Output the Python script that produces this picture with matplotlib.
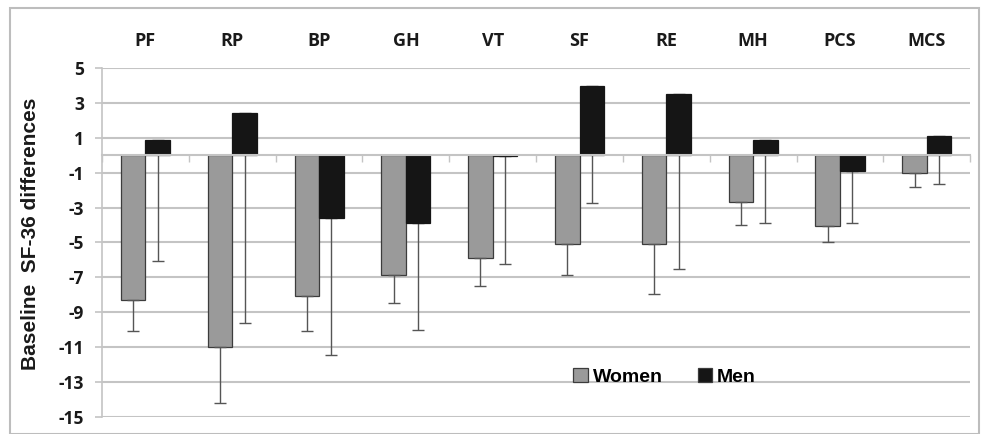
import matplotlib.pyplot as plt
import numpy as np
from matplotlib.patches import Rectangle

categories = ["PF", "RP", "BP", "GH", "VT", "SF", "RE", "MH", "PCS", "MCS"]
women = [-8.3, -11.0, -8.1, -6.9, -5.9, -5.1, -5.1, -2.7, -4.05, -1.0]
women_err = [1.8, 3.2, 2.0, 1.55, 1.6, 1.8, 2.85, 1.3, 0.9, 0.8]
men = [0.9, 2.4, -3.6, -3.9, -0.05, 4.0, 3.5, 0.9, -0.9, 1.1]
men_err = [6.95, 12.0, 7.85, 6.1, 6.2, 6.75, 10.05, 4.8, 3.0, 2.75]
yticks = list(range(5, -16, -2))

fig = plt.figure(figsize=(9.81, 4.34), dpi=100)
ax = fig.add_axes([0.104, 0.040, 0.885, 0.803])

x = np.arange(len(categories))
w = 0.283
grid_c = "#c4c4c4"
err_c = "#555555"
text_c = "#1a1a1a"

ax.bar(x - w / 2, women, w, color="#9a9a9a", edgecolor="#3c3c3c", linewidth=0.9,
       label="Women", zorder=3)
ax.bar(x + w / 2, men, w, color="#151515", edgecolor="#151515", linewidth=0.9,
       label="Men", zorder=3)
ax.errorbar(x - w / 2, women, yerr=[women_err, [0] * len(women)], fmt="none",
            ecolor=err_c, elinewidth=1, capsize=4, capthick=1, zorder=4)
ax.errorbar(x + w / 2, men, yerr=[men_err, [0] * len(men)], fmt="none",
            ecolor=err_c, elinewidth=1, capsize=4, capthick=1, zorder=2.5)

ax.set_xlim(-0.5, len(categories) - 0.5)
ax.set_ylim(-15, 5)
ax.set_yticks(yticks)
ax.set_yticklabels([str(v) for v in yticks], fontsize=12.5, fontweight="bold",
                   family="Open Sans", color=text_c)
ax.yaxis.grid(True, color=grid_c, linewidth=1.5, zorder=0)
ax.tick_params(axis="y", length=5, width=1.2, color=grid_c, pad=8)

# category axis sits at zero, ticks at the category boundaries
ax.spines["bottom"].set_position(("data", 0))
ax.spines["bottom"].set_color(grid_c)
ax.spines["bottom"].set_linewidth(1.5)
ax.spines["bottom"].set_zorder(3.5)
ax.set_xticks(np.arange(len(categories) + 1) - 0.5)
ax.set_xticklabels([])
ax.tick_params(axis="x", length=5, width=1, color=grid_c, direction="out")
for s in ["top", "right"]:
    ax.spines[s].set_visible(False)
ax.spines["left"].set_color(grid_c)
ax.spines["left"].set_linewidth(1.2)

top = ax.secondary_xaxis("top")
top.set_xticks(x)
top.set_xticklabels(categories, fontsize=13, fontweight="bold", family="Open Sans",
                    color=text_c)
top.tick_params(length=0, pad=13)
top.spines["top"].set_visible(False)

ax.set_ylabel("Baseline  SF-36 differences", fontsize=15, fontweight="bold",
              family="Liberation Sans", color=text_c)
ax.yaxis.set_label_coords(-0.072, 0.525)

# white gap in the gridline behind the legend
ax.axhspan(-13.4, -12.6, xmin=(535 - 102) / 868, xmax=(788 - 102) / 868,
           color="white", zorder=1)
leg = ax.legend(loc="center", bbox_to_anchor=(0.648, 0.114), ncol=2, frameon=False,
                handlelength=0.75, handleheight=0.75, handletextpad=0.25,
                columnspacing=1.8,
                prop={"family": "Liberation Sans", "weight": "bold", "size": 14})
leg.set_zorder(5)
for h in leg.legend_handles:
    h.set_edgecolor("#3c3c3c")

fig.patches.append(Rectangle((10 / 981, 0.0), 969 / 981, 1 - 8 / 434,
                             transform=fig.transFigure, fill=False,
                             edgecolor="#bdbdbd", linewidth=1.5))

fig.savefig("out.png", dpi=100)
